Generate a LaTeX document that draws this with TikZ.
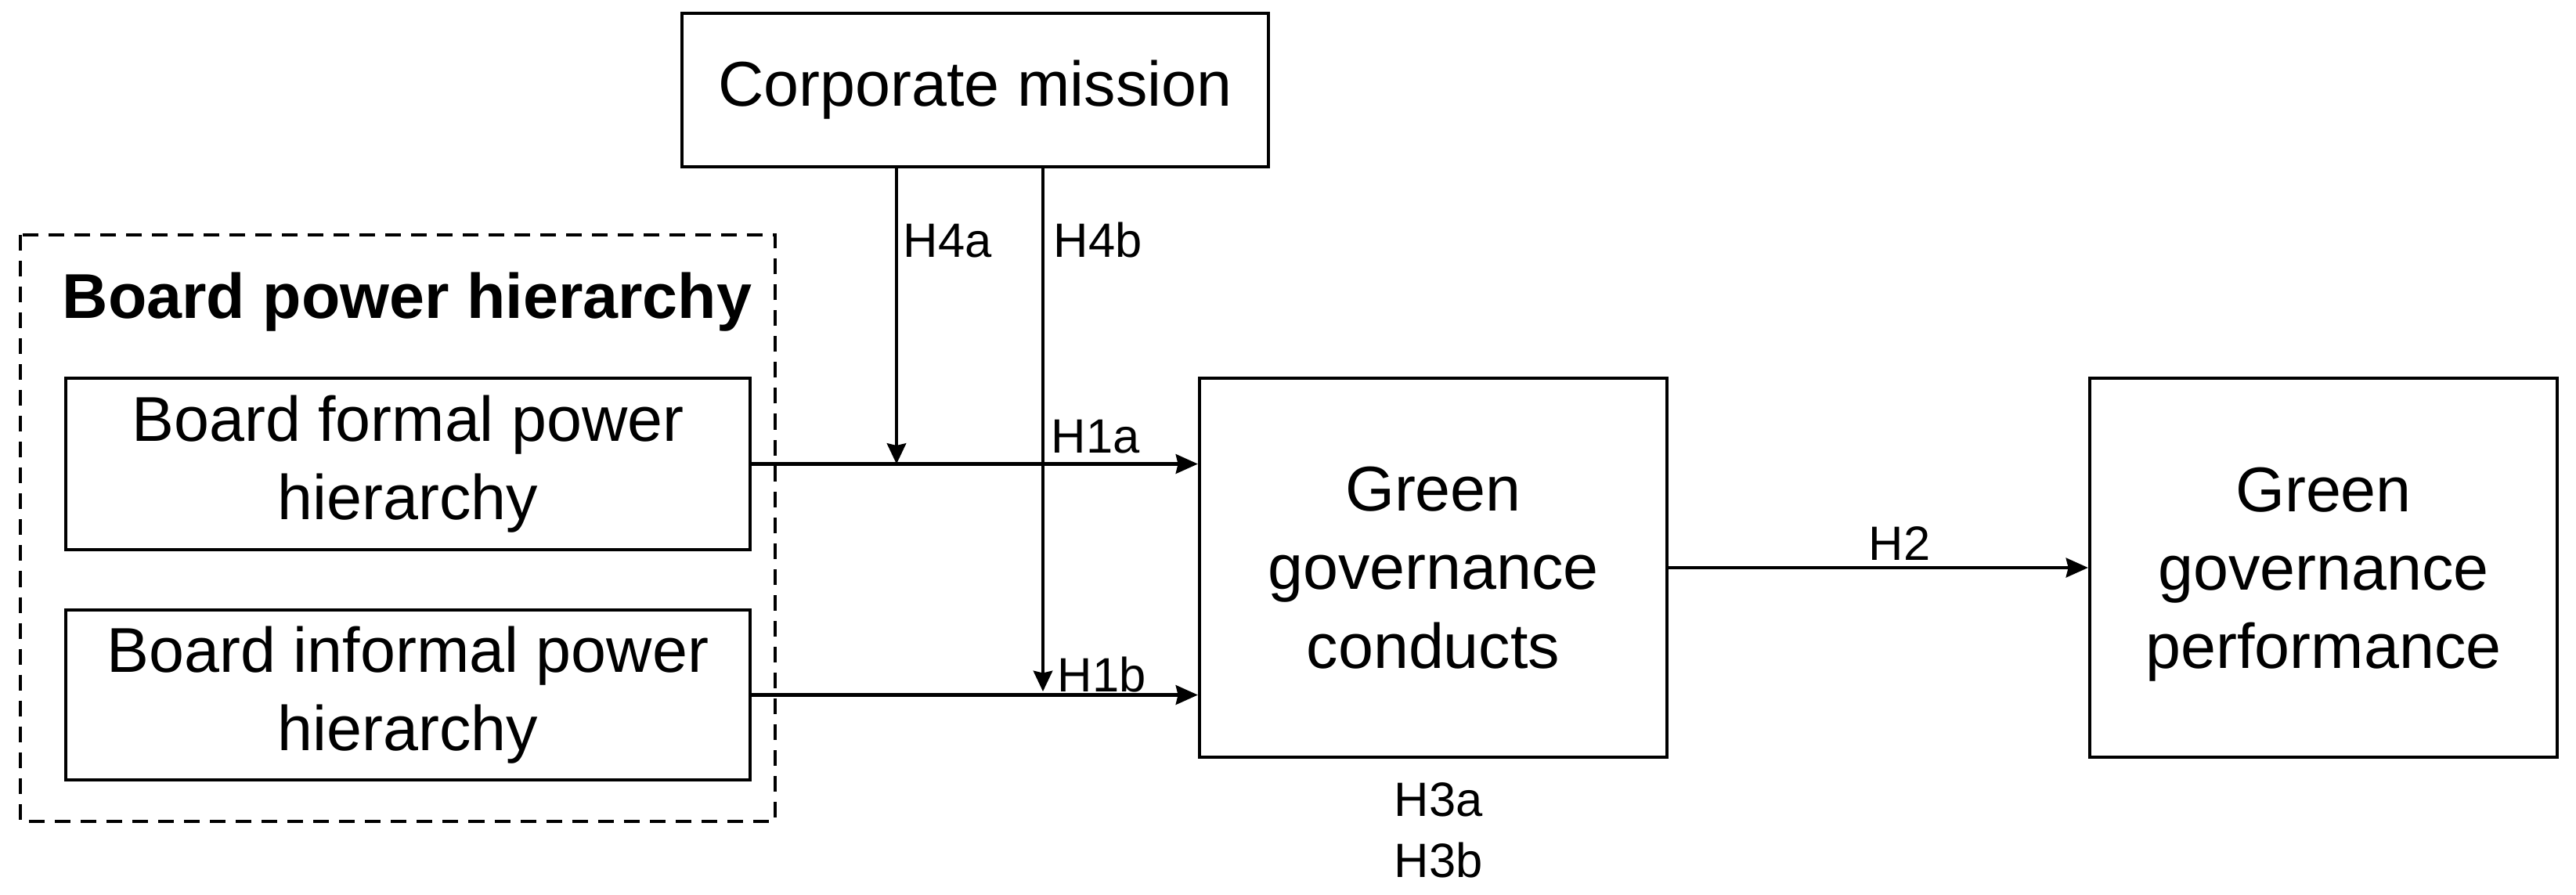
\documentclass[tikz,border=0pt]{standalone}
\usepackage{fontspec}
\setmainfont{Liberation Sans}
\usepackage{tikz}
\usetikzlibrary{arrows.meta}
\usetikzlibrary{calc}
\usetikzlibrary{positioning}

\tikzset{
	box/.style={draw,line width=1.2pt,align=center,inner sep=0pt,font=\fontsize{23}{28.5}\selectfont},
	arr/.style={line width=1.3pt,-{Stealth[length=8pt,width=7pt,inset=0.8pt]}},
	modarr/.style={line width=0.9pt,-{Stealth[length=7.5pt,width=7pt,inset=0.8pt]}},
	hyp/.style={inner sep=0pt,font=\fontsize{17.5}{21}\selectfont},
}

\begin{document}
\begin{tikzpicture}
			\useasboundingbox (0,0) rectangle (32.9,-11.43);
			%print boxes
			\node[box,minimum width=7.49cm,minimum height=1.96cm] (mission) at (12.455,-1.15) {Corporate mission};
			\node[box,minimum width=8.74cm,minimum height=2.19cm] (formal) at (5.21,-5.925) {Board formal power\\hierarchy};
			\node[box,minimum width=8.74cm,minimum height=2.17cm] (informal) at (5.21,-8.875) {Board informal power\\hierarchy};
			\node[box,minimum width=5.97cm,minimum height=4.84cm] (conducts) at (18.305,-7.25) {Green\\governance\\conducts};
			\node[box,minimum width=5.97cm,minimum height=4.84cm,text depth=0pt] (performance) at (29.675,-7.25) {Green\\governance\\performance};
			%dashed group
			\draw[line width=1.1pt,dash pattern=on 5.7pt off 3.7pt] (0.26,-3.00) rectangle (9.90,-10.49);
			\node[anchor=base,inner sep=0pt,font=\fontsize{23}{28.5}\selectfont\bfseries] (power) at (5.2,-4.06) {Board power hierarchy};
			%main paths
			\draw[arr] (formal.east) -- (conducts.west |- formal.east);
			\draw[arr] (informal.east) -- (conducts.west |- informal.east);
			\draw[arr] (conducts.east) -- (performance.west);
			%moderating paths
			\coordinate (moda) at (11.45,-5.925);
			\coordinate (modb) at (13.32,-8.83);
			\draw[modarr] (mission.south -| moda) -- (moda);
			\draw[modarr] (mission.south -| modb) -- (modb);
			%hypotheses
			\node[hyp,anchor=base west] (h4a) at (11.53,-3.28) {H4a};
			\node[hyp,anchor=base west] (h4b) at (13.45,-3.28) {H4b};
			\node[hyp,anchor=base west] (h1a) at (13.42,-5.78) {H1a};
			\node[hyp,anchor=base west] (h1b) at (13.50,-8.83) {H1b};
			\node[hyp,anchor=base] (h2) at (24.26,-7.15) {H2};
			\node[hyp,anchor=base] (h3a) at (18.37,-10.42) {H3a};
			\node[hyp,anchor=base] (h3b) at (18.37,-11.20) {H3b};
		\end{tikzpicture}
\end{document}
